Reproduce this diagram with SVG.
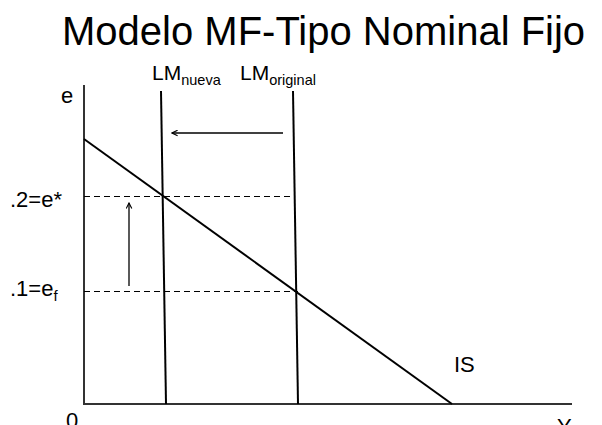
<svg xmlns="http://www.w3.org/2000/svg" width="602" height="425" viewBox="0 0 602 425">
<style>
text{font-family:"Liberation Sans",Arial,sans-serif;fill:#000}
.axis{stroke:#333;stroke-width:2;fill:none}
.curve{stroke:#000;stroke-width:2;fill:none}
.dash{stroke:#000;stroke-width:1;stroke-dasharray:6,4;fill:none}
.arr{stroke:#000;stroke-width:1.3;fill:none;marker-end:url(#ah)}
.lbl{font-size:22px}
</style>
<defs>
<marker id="ah" viewBox="0 0 10 10" refX="9" refY="5" markerWidth="7" markerHeight="7" markerUnits="userSpaceOnUse" orient="auto">
<path d="M1,1 L9,5 L1,9" fill="none" stroke="#000" stroke-width="1.6"/>
</marker>
</defs>
<rect width="602" height="425" fill="#fff"/>
<text x="62" y="45" font-size="40">Modelo MF-Tipo Nominal Fijo</text>
<g id="axes">
<path class="axis" d="M84,85 V404 H572"/>
<text class="lbl" x="61" y="103">e</text>
<text class="lbl" x="66" y="428">0</text>
<text class="lbl" x="557" y="434">Y</text>
</g>
<g id="IS">
<line class="curve" x1="84" y1="139" x2="452" y2="404"/>
<text class="lbl" x="454" y="372">IS</text>
</g>
<g id="LMnueva">
<line class="curve" x1="161" y1="91" x2="166" y2="404"/>
<text x="152" y="80" font-size="21">LM<tspan font-size="14.5" dy="5">nueva</tspan></text>
</g>
<g id="LMoriginal">
<line class="curve" x1="293" y1="91" x2="298" y2="404"/>
<text x="240" y="80" font-size="21">LM<tspan font-size="14.5" dy="5">original</tspan></text>
</g>
<g id="levels">
<text class="lbl" x="10" y="207">.2=e*</text>
<text class="lbl" x="10" y="296">.1=e<tspan font-size="15" dy="5">f</tspan></text>
</g>
<g id="connectors">
<line class="dash" x1="84" y1="196.5" x2="294" y2="196.5"/>
<line class="dash" x1="84" y1="291.5" x2="298" y2="291.5"/>
<line class="arr" x1="129" y1="286" x2="129" y2="203"/>
<line class="arr" x1="283" y1="133" x2="172" y2="133"/>
</g>
</svg>
